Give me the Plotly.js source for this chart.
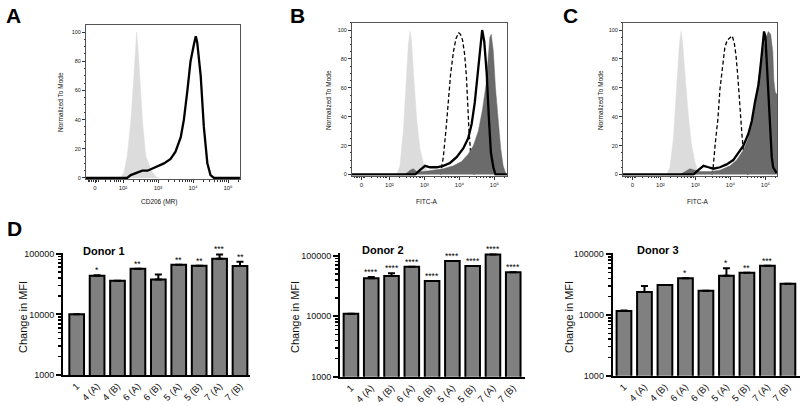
<!DOCTYPE html>
<html><head><meta charset="utf-8">
<script src="https://cdn.plot.ly/plotly-3.0.1.min.js"></script>
<style>html,body{margin:0;padding:0;background:#fff;}#chart{width:801px;height:406px;}</style>
</head><body><div id="chart"></div>
<script>
// ---------- Flow cytometry histograms ----------
// x = position on the biexponential display axis in decades (2 = 10^2, 3 = 10^3 ...), y = % of mode
const aIsoX   = [1.93, 2.03, 2.12, 2.22, 2.29, 2.34, 2.39, 2.44, 2.50, 2.56, 2.65, 2.79, 2.93, 3.03];
const aIsoY   = [0, 4, 15, 38, 62, 85, 100, 85, 62, 38, 15, 6, 1, 0];
const aCD206X = [0.94, 2.12, 2.22, 2.41, 2.55, 2.70, 2.79, 2.98, 3.17, 3.36, 3.50, 3.65, 3.74, 3.84, 3.93, 4.03, 4.08, 4.12, 4.22, 4.31, 4.41, 4.50, 4.60, 5.34];
const aCD206Y = [0, 0, 2, 4, 5, 5, 6, 8, 10, 13, 18, 28, 40, 60, 80, 92, 97, 93, 70, 35, 10, 2, 0, 0];

const bIsoX   = [2.21, 2.30, 2.40, 2.49, 2.54, 2.59, 2.63, 2.68, 2.78, 2.87, 2.97, 3.08, 3.16];
const bIsoY   = [0, 6, 31, 73, 90, 99, 93, 73, 38, 18, 8, 2, 0];
const bFillX  = [2.44, 2.59, 2.68, 2.78, 2.97, 3.25, 3.54, 3.83, 4.06, 4.25, 4.40, 4.54, 4.66, 4.76, 4.83, 4.87, 4.91, 4.97, 5.03, 5.11, 5.18, 5.25, 5.32];
const bFillY  = [0, 3, 4, 2, 2, 3, 4, 6, 9, 14, 20, 30, 45, 62, 80, 95, 97, 85, 60, 35, 18, 6, 1];
const bDashX  = [3.46, 3.54, 3.62, 3.68, 3.75, 3.83, 3.90, 3.98, 4.03, 4.09, 4.15, 4.20, 4.23, 4.27, 4.32, 4.38, 4.42];
const bDashY  = [0, 12, 32, 52, 70, 85, 94, 98, 97, 93, 83, 68, 50, 32, 15, 4, 0];
const bLineX  = [0.93, 2.73, 2.87, 3.02, 3.16, 3.35, 3.54, 3.73, 3.92, 4.11, 4.25, 4.35, 4.44, 4.52, 4.59, 4.65, 4.71, 4.78, 4.84, 4.90, 4.97, 5.03, 5.36];
const bLineY  = [0, 0, 3, 6, 5, 5, 6, 8, 12, 18, 25, 35, 50, 70, 88, 100, 92, 70, 40, 15, 5, 0, 0];

const cIsoX   = [2.18, 2.27, 2.37, 2.46, 2.54, 2.59, 2.63, 2.70, 2.80, 2.89, 2.99, 3.08, 3.18];
const cIsoY   = [0, 5, 25, 62, 90, 99, 92, 70, 40, 20, 8, 2, 0];
const cFillX  = [2.56, 2.70, 2.84, 2.99, 3.13, 3.42, 3.70, 3.99, 4.18, 4.37, 4.51, 4.61, 4.70, 4.80, 4.89, 4.99, 5.08, 5.15, 5.21, 5.24, 5.28, 5.34];
const cFillY  = [0, 2, 4, 3, 2, 2, 3, 6, 10, 17, 25, 35, 48, 65, 82, 93, 99, 97, 85, 65, 57, 55];
const cDashX  = [3.47, 3.51, 3.56, 3.64, 3.70, 3.78, 3.84, 3.91, 3.99, 4.05, 4.11, 4.16, 4.21, 4.25, 4.29, 4.33, 4.39, 4.44, 4.50];
const cDashY  = [0, 6, 20, 38, 59, 77, 88, 93, 95, 96, 91, 82, 68, 52, 38, 27, 12, 3, 0];
const cLineX  = [0.93, 2.94, 3.08, 3.23, 3.37, 3.51, 3.70, 3.89, 4.08, 4.23, 4.37, 4.51, 4.61, 4.70, 4.80, 4.86, 4.92, 4.96, 5.00, 5.03, 5.08, 5.13, 5.18, 5.22, 5.27, 5.32];
const cLineY  = [0, 0, 3, 6, 5, 4, 5, 7, 10, 15, 20, 28, 37, 50, 62, 75, 92, 99, 95, 80, 55, 30, 12, 5, 3, 1];

const histTickVals = [1.2, 2, 3, 4, 5];
const histTickText = ["0", "10\u00B2", "10\u00B3", "10\u2074", "10\u2075"];
const histMinorVals = [1.0, 1.05, 1.1, 1.15, 1.25, 1.3, 1.5, 1.65, 1.75, 1.82, 1.88, 1.93,
  2.30, 2.48, 2.60, 2.70, 2.78, 2.85, 2.90, 2.95,
  3.30, 3.48, 3.60, 3.70, 3.78, 3.85, 3.90, 3.95,
  4.30, 4.48, 4.60, 4.70, 4.78, 4.85, 4.90, 4.95, 5.30];

// ---------- Bar charts (Change in MFI) ----------
const categories = ["1", "4 (A)", "4 (B)", "6 (A)", "6 (B)", "5 (A)", "5 (B)", "7 (A)", "7 (B)"];
const donor1    = [10000, 43300, 35800, 56400, 37700, 65600, 63200, 82400, 62500];
const donor1Err = [0, 1000, 0, 0, 7900, 0, 0, 14900, 11100];
const donor1Sig = ["", "*", "", "**", "", "**", "**", "***", "**"];
const donor2    = [11000, 42300, 46200, 65800, 38200, 81700, 67600, 105000, 53200];
const donor2Err = [0, 2400, 4900, 0, 0, 0, 0, 0, 0];
const donor2Sig = ["", "****", "****", "****", "****", "****", "****", "****", "****"];
const donor3    = [11600, 23900, 31200, 40200, 25200, 44400, 49700, 64900, 32800];
const donor3Err = [300, 6100, 0, 0, 0, 14400, 0, 0, 0];
const donor3Sig = ["", "", "", "*", "", "*", "**", "***", ""];
const barTickVals = [1000, 10000, 100000];
const barTickText = ["1000", "10000", "100000"];

const FONT = "Liberation Sans, Arial, Helvetica, sans-serif";
const W = 801, H = 406;
const dx = (a, b) => [a / W, b / W];
const dy = (top, bottom) => [1 - bottom / H, 1 - top / H];

const traces = [];
function hist(xa, ya, iso, fill, dash, line) {
  traces.push({type: 'scatter', mode: 'lines', x: iso[0], y: iso[1], fill: 'tozeroy',
    fillcolor: '#dcdcdc', line: {color: '#dcdcdc', width: 0.5}, xaxis: xa, yaxis: ya, hoverinfo: 'skip'});
  if (dash) traces.push({type: 'scatter', mode: 'lines', x: dash[0], y: dash[1],
    line: {color: '#000', width: 1.3, dash: '4px,2.5px'}, xaxis: xa, yaxis: ya, hoverinfo: 'skip'});
  if (fill) traces.push({type: 'scatter', mode: 'lines', x: fill[0], y: fill[1], fill: 'tozeroy',
    fillcolor: '#6b6b6b', line: {color: '#6b6b6b', width: 0.5}, xaxis: xa, yaxis: ya, hoverinfo: 'skip'});
  traces.push({type: 'scatter', mode: 'lines', x: line[0], y: line[1],
    line: {color: '#000', width: 2.3}, xaxis: xa, yaxis: ya, hoverinfo: 'skip'});
}
hist('x', 'y', [aIsoX, aIsoY], null, null, [aCD206X, aCD206Y]);
hist('x2', 'y2', [bIsoX, bIsoY], [bFillX, bFillY], [bDashX, bDashY], [bLineX, bLineY]);
hist('x3', 'y3', [cIsoX, cIsoY], [cFillX, cFillY], [cDashX, cDashY], [cLineX, cLineY]);

const annotations = [];
function bars(xa, ya, vals, errs, sigs) {
  traces.push({type: 'bar', x: categories, y: vals, width: 0.72,
    marker: {color: '#808080', line: {color: '#000', width: 2}},
    error_y: {type: 'data', symmetric: false, array: errs, arrayminus: errs.map(() => 0),
      color: '#000', thickness: 2, width: 3.5},
    xaxis: xa, yaxis: ya, hoverinfo: 'skip'});
  sigs.forEach((s, i) => {
    if (!s) return;
    annotations.push({xref: xa, yref: ya, x: i, y: Math.log10(vals[i] + errs[i]),
      text: s, showarrow: false, yanchor: 'bottom', yshift: -2,
      font: {family: FONT, size: 8.5, color: '#000'}});
  });
}
bars('x4', 'y4', donor1, donor1Err, donor1Sig);
bars('x5', 'y5', donor2, donor2Err, donor2Sig);
bars('x6', 'y6', donor3, donor3Err, donor3Sig);

function histX(dom, rng, anchor) {
  return {domain: dom, range: rng, anchor: anchor, showline: true, mirror: true, linecolor: '#555', linewidth: 1,
    ticks: 'outside', ticklen: 3, tickwidth: 1, tickcolor: '#333', tickmode: 'array',
    tickvals: histTickVals, ticktext: histTickText, tickfont: {family: FONT, size: 6, color: '#222'},
    showgrid: false, zeroline: false, fixedrange: true,
    minor: {tickmode: 'array', tickvals: histMinorVals, ticks: 'outside', ticklen: 1.5, tickcolor: '#333', showgrid: false}};
}
function histY(dom, rng, anchor) {
  return {domain: dom, range: rng, anchor: anchor, showline: true, mirror: true, linecolor: '#555', linewidth: 1,
    ticks: 'outside', ticklen: 3, tickwidth: 1, tickcolor: '#333', tickmode: 'array',
    tickvals: [0, 20, 40, 60, 80, 100], tickfont: {family: FONT, size: 5.5, color: '#222'},
    showgrid: false, zeroline: false, fixedrange: true,
    minor: {dtick: 5, ticks: 'outside', ticklen: 1.5, tickcolor: '#333', showgrid: false}};
}
function barX(dom, rng, anchor) {
  return {domain: dom, range: rng, anchor: anchor, type: 'category', showline: true, linecolor: '#000', linewidth: 2,
    ticks: '', tickangle: -45, tickfont: {family: FONT, size: 9.5, color: '#111'},
    showgrid: false, zeroline: false, fixedrange: true};
}
const barMinor = [];
[1000, 10000].forEach(d => { for (let k = 2; k <= 9; k++) barMinor.push(k * d); });
function barY(dom, rng, anchor) {
  return {domain: dom, range: rng, anchor: anchor, type: 'log', showline: true, linecolor: '#000', linewidth: 2,
    ticks: 'outside', ticklen: 5, tickwidth: 2, tickcolor: '#000', tickmode: 'array',
    tickvals: barTickVals, ticktext: barTickText, tickfont: {family: FONT, size: 9, color: '#111'},
    showgrid: false, zeroline: false, fixedrange: true,
    minor: {tickmode: 'array', tickvals: barMinor, ticks: 'outside', ticklen: 3, tickwidth: 1.5, tickcolor: '#000', showgrid: false}};
}

function txt(x, y, text, size, opts) {
  annotations.push(Object.assign({xref: 'paper', yref: 'paper', x: x / W, y: 1 - y / H, text: text,
    showarrow: false, xanchor: 'center', yanchor: 'middle', font: {family: FONT, size: size, color: '#111'}}, opts || {}));
}
// panel letters
txt(13, 16, '<b>A</b>', 21, {font: {family: FONT, size: 21, color: '#000'}});
txt(297, 16, '<b>B</b>', 21, {font: {family: FONT, size: 21, color: '#000'}});
txt(570, 16, '<b>C</b>', 21, {font: {family: FONT, size: 21, color: '#000'}});
txt(14, 228, '<b>D</b>', 21, {font: {family: FONT, size: 21, color: '#000'}});
// histogram axis titles
txt(60, 102, 'Normalized To Mode', 6.5, {textangle: -90});
txt(328, 100, 'Normalized To Mode', 6.5, {textangle: -90});
txt(600, 100, 'Normalized To Mode', 6.5, {textangle: -90});
txt(159, 202, 'CD206 (MR)', 6.5);
txt(427, 202, 'FITC-A', 6.5);
txt(698, 202, 'FITC-A', 6.5);
// bar chart titles
txt(104, 251, '<b>Donor 1</b>', 11, {font: {family: FONT, size: 11, color: '#000'}});
txt(383, 250, '<b>Donor 2</b>', 11, {font: {family: FONT, size: 11, color: '#000'}});
txt(658, 250, '<b>Donor 3</b>', 11, {font: {family: FONT, size: 11, color: '#000'}});
txt(23, 317, 'Change in MFI', 11, {textangle: -90});
txt(295, 317, 'Change in MFI', 11, {textangle: -90});
txt(569, 317, 'Change in MFI', 11, {textangle: -90});

const layout = {
  width: W, height: H, margin: {l: 0, r: 0, t: 0, b: 0}, showlegend: false,
  paper_bgcolor: '#fff', plot_bgcolor: '#fff', font: {family: FONT, color: '#111'},
  xaxis:  histX(dx(86, 240), [0.943, 5.343], 'y'),
  yaxis:  histY(dy(25, 179), [-0.7, 104.8], 'x'),
  xaxis2: histX(dx(352, 507), [0.93, 5.36], 'y2'),
  yaxis2: histY(dy(22.7, 175.5), [-0.7, 105.05], 'x2'),
  xaxis3: histX(dx(623, 777), [0.93, 5.33], 'y3'),
  yaxis3: histY(dy(22.7, 175.5), [-0.7, 105.05], 'x3'),
  xaxis4: barX(dx(63, 250), [-0.67, 8.49], 'y4'),
  yaxis4: barY(dy(252.5, 375), [3, 5.02], 'x4'),
  xaxis5: barX(dx(340, 525), [-0.54, 8.58], 'y5'),
  yaxis5: barY(dy(252.7, 376.7), [3, 5.05], 'x5'),
  xaxis6: barX(dx(612.7, 800), [-0.55, 8.59], 'y6'),
  yaxis6: barY(dy(252.8, 375.7), [3, 5.025], 'x6'),
  annotations: annotations,
  bargap: 0.2
};
Plotly.newPlot('chart', traces, layout, {staticPlot: true, displayModeBar: false});
</script></body></html>
